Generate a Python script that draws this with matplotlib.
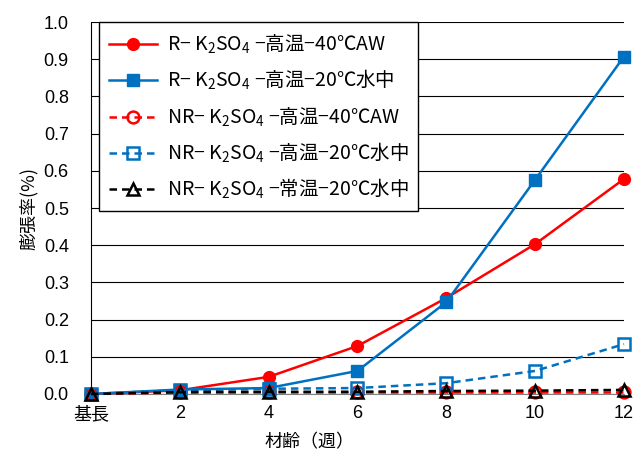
import matplotlib

matplotlib.use("Agg")
import matplotlib.pyplot as plt

plt.rcParams["font.family"] = ["Liberation Sans", "DejaVu Sans", "Noto Sans CJK JP"]
plt.rcParams["mathtext.fontset"] = "custom"
plt.rcParams["mathtext.rm"] = "Noto Sans CJK JP"
plt.rcParams["mathtext.it"] = "Noto Sans CJK JP"
plt.rcParams["mathtext.default"] = "regular"

ages = ["基長", "2", "4", "6", "8", "10", "12"]
r_caw = [0.0, 0.010, 0.046, 0.129, 0.258, 0.403, 0.578]
r_water = [0.0, 0.012, 0.016, 0.062, 0.247, 0.576, 0.907]
nr_caw = [0.0, 0.004, 0.004, 0.004, 0.004, 0.004, 0.004]
nr_water = [0.0, 0.010, 0.014, 0.016, 0.029, 0.062, 0.134]
nr_room = [0.0, 0.005, 0.006, 0.006, 0.008, 0.009, 0.011]

labels = [
    "R− K$_2$SO$_4$ −高温−40℃AW",
    "R− K$_2$SO$_4$ −高温−20℃水中",
    "NR− K$_2$SO$_4$ −高温−40℃AW",
    "NR− K$_2$SO$_4$ −高温−20℃水中",
    "NR− K$_2$SO$_4$ −常温−20℃水中",
]

red = "#FF0000"
blue = "#0070C0"

fig = plt.figure(figsize=(6.38, 4.54), dpi=100)
ax = fig.add_axes([0.1426, 0.1322, 0.8354, 0.8193])

x = list(range(len(ages)))
common = dict(linewidth=1.8, markersize=8.5, clip_on=False, zorder=3)
hollow = dict(linestyle="--", dashes=(3, 2), markerfacecolor="none", markeredgewidth=1.8)
ax.plot(x, r_caw, color=red, marker="o", label=labels[0], **common)
ax.plot(x, r_water, color=blue, marker="s", label=labels[1], **common)
ax.plot(x, nr_caw, color=red, marker="o", label=labels[2], **hollow, **common)
ax.plot(x, nr_water, color=blue, marker="s", label=labels[3], **hollow, **common)
ax.plot(x, nr_room, color="black", marker="^", label=labels[4], **hollow, **common)

ax.set_xlim(0, len(ages) - 1)
ax.set_ylim(0, 1.0)
ax.set_xticks(x)
ax.set_xticklabels(ages)
ax.set_yticks([i / 10 for i in range(11)])
ax.set_yticklabels([f"{i / 10:.1f}" for i in range(11)])
ax.tick_params(length=0, labelsize=13)
ax.tick_params(axis="y", pad=16)
ax.tick_params(axis="x", pad=8)
ax.get_xticklabels()[0].set_family("Noto Sans CJK JP")
ax.yaxis.grid(True, color="black", linewidth=0.8)
ax.set_axisbelow(True)
for side in ["top", "right"]:
    ax.spines[side].set_visible(False)
ax.spines["left"].set_color("black")
ax.spines["bottom"].set_color("#808080")

ax.set_xlabel("材齢（週）", fontsize=13, family="Noto Sans CJK JP")
ax.xaxis.set_label_coords(0.41, -0.105)
ax.set_ylabel("膨張率(%)", fontsize=13, family="Noto Sans CJK JP", labelpad=4)

leg = ax.legend(loc="upper left", bbox_to_anchor=(0.015, 1.0), borderaxespad=0,
                handlelength=2.5, handletextpad=0.5, labelspacing=0.62, borderpad=0.5,
                fancybox=False, framealpha=1, edgecolor="black",
                prop={"family": "Noto Sans CJK JP", "size": 14})
leg.get_frame().set_linewidth(1.0)

fig.savefig("out.png", dpi=100)
